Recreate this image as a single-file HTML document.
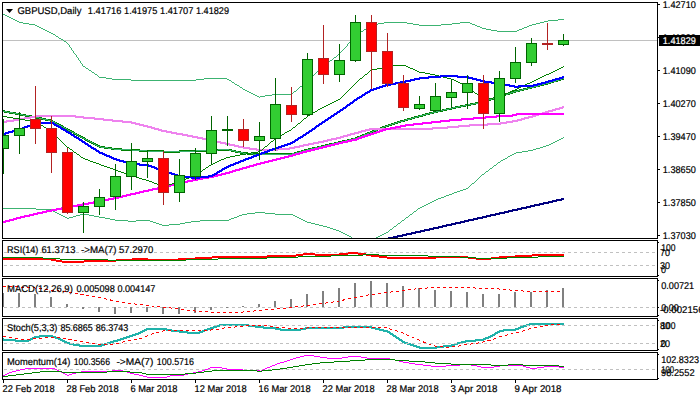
<!DOCTYPE html>
<html><head><meta charset="utf-8"><title>GBPUSD,Daily</title>
<style>
html,body{margin:0;padding:0;background:#fff;}
body{width:700px;height:400px;overflow:hidden;}
svg{display:block;}
text{font-family:"Liberation Sans",sans-serif;font-size:9.8px;fill:#000;stroke:#000;stroke-width:0.2px;text-rendering:geometricPrecision;}
.ln{fill:none;shape-rendering:crispEdges;}
</style></head><body>
<svg width="700" height="400" viewBox="0 0 700 400">
<rect x="0" y="0" width="700" height="400" fill="#fff"/>
<defs>
<clipPath id="cm"><rect x="3" y="3" width="654" height="235"/></clipPath>
<clipPath id="c1"><rect x="3" y="241" width="654" height="35"/></clipPath>
<clipPath id="c2"><rect x="3" y="279" width="654" height="37"/></clipPath>
<clipPath id="c3"><rect x="3" y="319" width="654" height="31"/></clipPath>
<clipPath id="c4"><rect x="3" y="353" width="654" height="26"/></clipPath>
</defs>

<g clip-path="url(#cm)">
<rect x="3" y="40" width="654" height="1" fill="#c0c0c0" shape-rendering="crispEdges"/>
<path d="M560,78h4v1h-4zM557,79h7v1h-7zM553,80h8v1h-8zM550,81h8v1h-8zM547,82h7v1h-7zM543,83h8v1h-8zM539,84h9v1h-9zM535,85h9v1h-9zM531,86h9v1h-9zM527,87h9v1h-9zM523,88h9v1h-9zM519,89h9v1h-9zM515,90h9v1h-9zM512,91h8v1h-8zM509,92h7v1h-7zM505,93h8v1h-8zM502,94h8v1h-8zM499,95h7v1h-7zM496,96h7v1h-7zM493,97h7v1h-7zM490,98h7v1h-7zM487,99h7v1h-7zM484,100h7v1h-7zM480,101h8v1h-8zM475,102h10v1h-10zM470,103h11v1h-11zM465,104h11v1h-11zM460,105h11v1h-11zM455,106h11v1h-11zM451,107h10v1h-10zM446,108h10v1h-10zM442,109h10v1h-10zM2,110h3v1h-3zM437,110h10v1h-10zM2,111h8v1h-8zM433,111h10v1h-10zM4,112h12v1h-12zM429,112h9v1h-9zM9,113h12v1h-12zM425,113h9v1h-9zM15,114h11v1h-11zM422,114h8v1h-8zM20,115h12v1h-12zM418,115h8v1h-8zM25,116h12v1h-12zM414,116h9v1h-9zM31,117h11v1h-11zM411,117h8v1h-8zM36,118h10v1h-10zM407,118h8v1h-8zM41,119h10v1h-10zM404,119h8v1h-8zM45,120h8v1h-8zM400,120h8v1h-8zM50,121h5v1h-5zM397,121h8v1h-8zM52,122h5v1h-5zM394,122h7v1h-7zM54,123h5v1h-5zM391,123h7v1h-7zM56,124h5v1h-5zM388,124h7v1h-7zM58,125h5v1h-5zM385,125h7v1h-7zM60,126h4v1h-4zM382,126h7v1h-7zM62,127h4v1h-4zM380,127h6v1h-6zM63,128h5v1h-5zM377,128h6v1h-6zM65,129h5v1h-5zM375,129h6v1h-6zM67,130h5v1h-5zM372,130h6v1h-6zM69,131h5v1h-5zM370,131h6v1h-6zM71,132h4v1h-4zM367,132h6v1h-6zM73,133h4v1h-4zM365,133h6v1h-6zM74,134h5v1h-5zM362,134h6v1h-6zM76,135h5v1h-5zM360,135h6v1h-6zM78,136h5v1h-5zM357,136h6v1h-6zM80,137h5v1h-5zM355,137h6v1h-6zM82,138h4v1h-4zM351,138h7v1h-7zM84,139h4v1h-4zM347,139h9v1h-9zM85,140h5v1h-5zM342,140h10v1h-10zM87,141h5v1h-5zM338,141h10v1h-10zM89,142h5v1h-5zM334,142h9v1h-9zM91,143h5v1h-5zM329,143h10v1h-10zM93,144h5v1h-5zM325,144h10v1h-10zM95,145h5v1h-5zM321,145h9v1h-9zM97,146h8v1h-8zM317,146h9v1h-9zM99,147h13v1h-13zM312,147h10v1h-10zM104,148h18v1h-18zM308,148h10v1h-10zM111,149h29v1h-29zM206,149h26v1h-26zM304,149h9v1h-9zM121,150h43v1h-43zM179,150h57v1h-57zM301,150h8v1h-8zM139,151h68v1h-68zM231,151h10v1h-10zM297,151h8v1h-8zM163,152h17v1h-17zM235,152h13v1h-13zM294,152h8v1h-8zM240,153h58v1h-58zM247,154h48v1h-48z" fill="#008000" shape-rendering="crispEdges"/>
<path d="M3,14h2v1h-2zM5,15h2v1h-2zM7,16h2v1h-2zM9,17h2v1h-2zM11,18h2v1h-2zM13,19h2v1h-2zM558,19h6v1h-6zM15,20h2v1h-2zM548,20h10v1h-10zM17,21h2v1h-2zM544,21h4v1h-4zM19,22h4v1h-4zM384,22h23v1h-23zM460,22h10v1h-10zM540,22h4v1h-4zM23,23h6v1h-6zM378,23h6v1h-6zM407,23h6v1h-6zM452,23h8v1h-8zM470,23h2v1h-2zM536,23h4v1h-4zM29,24h6v1h-6zM372,24h6v1h-6zM413,24h6v1h-6zM441,24h11v1h-11zM472,24h3v1h-3zM532,24h4v1h-4zM35,25h2v1h-2zM370,25h2v1h-2zM419,25h22v1h-22zM475,25h2v1h-2zM529,25h3v1h-3zM37,26h2v1h-2zM369,26h1v1h-1zM477,26h3v1h-3zM527,26h2v1h-2zM39,27h2v1h-2zM367,27h2v1h-2zM480,27h2v1h-2zM524,27h3v1h-3zM41,28h2v1h-2zM366,28h1v1h-1zM482,28h4v1h-4zM522,28h2v1h-2zM43,29h2v1h-2zM364,29h2v1h-2zM486,29h5v1h-5zM519,29h3v1h-3zM45,30h2v1h-2zM363,30h1v1h-1zM491,30h6v1h-6zM517,30h2v1h-2zM47,31h2v1h-2zM361,31h2v1h-2zM497,31h20v1h-20zM49,32h2v1h-2zM360,32h1v1h-1zM51,33h2v1h-2zM358,33h2v1h-2zM53,34h2v1h-2zM357,34h1v1h-1zM55,35h1v1h-1zM356,35h1v1h-1zM56,36h2v1h-2zM355,36h1v1h-1zM58,37h1v1h-1zM354,37h1v1h-1zM59,38h2v1h-2zM353,38h1v1h-1zM61,39h2v1h-2zM352,39h1v1h-1zM63,40h1v1h-1zM351,40h1v1h-1zM64,41h2v1h-2zM350,41h1v1h-1zM66,42h1v1h-1zM349,42h1v1h-1zM67,43h1v1h-1zM348,43h1v1h-1zM68,44h1v1h-1zM347,44h1v1h-1zM69,45h1v1h-1zM347,45h1v1h-1zM69,46h1v1h-1zM346,46h1v1h-1zM70,47h1v1h-1zM345,47h1v1h-1zM71,48h1v1h-1zM344,48h1v1h-1zM71,49h1v1h-1zM343,49h1v1h-1zM72,50h1v1h-1zM342,50h1v1h-1zM73,51h1v1h-1zM341,51h1v1h-1zM73,52h1v1h-1zM340,52h1v1h-1zM74,53h1v1h-1zM339,53h1v1h-1zM75,54h1v1h-1zM338,54h2v1h-2zM76,55h1v1h-1zM337,55h1v1h-1zM76,56h1v1h-1zM336,56h1v1h-1zM77,57h1v1h-1zM334,57h2v1h-2zM78,58h1v1h-1zM333,58h1v1h-1zM78,59h1v1h-1zM332,59h1v1h-1zM79,60h1v1h-1zM330,60h2v1h-2zM80,61h1v1h-1zM329,61h1v1h-1zM80,62h1v1h-1zM328,62h1v1h-1zM81,63h1v1h-1zM326,63h2v1h-2zM82,64h1v1h-1zM325,64h1v1h-1zM82,65h1v1h-1zM324,65h1v1h-1zM83,66h2v1h-2zM322,66h2v1h-2zM85,67h1v1h-1zM321,67h1v1h-1zM86,68h2v1h-2zM320,68h1v1h-1zM88,69h1v1h-1zM319,69h1v1h-1zM89,70h2v1h-2zM318,70h1v1h-1zM91,71h1v1h-1zM317,71h1v1h-1zM92,72h2v1h-2zM316,72h1v1h-1zM94,73h1v1h-1zM315,73h1v1h-1zM95,74h2v1h-2zM314,74h1v1h-1zM97,75h1v1h-1zM313,75h1v1h-1zM98,76h1v1h-1zM312,76h1v1h-1zM99,77h7v1h-7zM311,77h1v1h-1zM106,78h6v1h-6zM204,78h23v1h-23zM310,78h1v1h-1zM112,79h19v1h-19zM196,79h8v1h-8zM227,79h2v1h-2zM309,79h1v1h-1zM131,80h65v1h-65zM229,80h2v1h-2zM308,80h1v1h-1zM231,81h1v1h-1zM306,81h2v1h-2zM232,82h2v1h-2zM305,82h1v1h-1zM234,83h1v1h-1zM304,83h1v1h-1zM235,84h2v1h-2zM303,84h1v1h-1zM237,85h2v1h-2zM302,85h1v1h-1zM239,86h1v1h-1zM300,86h2v1h-2zM240,87h2v1h-2zM299,87h1v1h-1zM242,88h1v1h-1zM298,88h1v1h-1zM243,89h2v1h-2zM297,89h1v1h-1zM245,90h2v1h-2zM296,90h1v1h-1zM247,91h2v1h-2zM294,91h2v1h-2zM249,92h2v1h-2zM293,92h1v1h-1zM251,93h2v1h-2zM292,93h1v1h-1zM253,94h2v1h-2zM272,94h20v1h-20zM255,95h2v1h-2zM265,95h7v1h-7zM257,96h2v1h-2zM260,96h5v1h-5zM259,97h1v1h-1z" fill="#3cb371" shape-rendering="crispEdges"/>
<path d="M563,137h1v1h-1zM561,138h2v1h-2zM559,139h2v1h-2zM557,140h2v1h-2zM555,141h2v1h-2zM553,142h2v1h-2zM551,143h2v1h-2zM549,144h2v1h-2zM546,145h3v1h-3zM543,146h3v1h-3zM540,147h3v1h-3zM536,148h4v1h-4zM533,149h3v1h-3zM528,150h5v1h-5zM522,151h6v1h-6zM516,152h6v1h-6zM514,153h2v1h-2zM512,154h2v1h-2zM510,155h2v1h-2zM508,156h2v1h-2zM507,157h1v1h-1zM505,158h2v1h-2zM503,159h2v1h-2zM501,160h2v1h-2zM500,161h1v1h-1zM498,162h2v1h-2zM497,163h1v1h-1zM496,164h1v1h-1zM494,165h2v1h-2zM493,166h1v1h-1zM492,167h1v1h-1zM490,168h2v1h-2zM489,169h1v1h-1zM488,170h1v1h-1zM486,171h2v1h-2zM485,172h1v1h-1zM484,173h1v1h-1zM482,174h2v1h-2zM481,175h1v1h-1zM480,176h1v1h-1zM479,177h1v1h-1zM478,178h1v1h-1zM477,179h1v1h-1zM476,180h1v1h-1zM475,181h1v1h-1zM474,182h1v1h-1zM472,183h2v1h-2zM471,184h1v1h-1zM470,185h1v1h-1zM469,186h1v1h-1zM468,187h1v1h-1zM466,188h2v1h-2zM463,189h3v1h-3zM460,190h3v1h-3zM457,191h3v1h-3zM454,192h3v1h-3zM452,193h2v1h-2zM449,194h3v1h-3zM446,195h3v1h-3zM444,196h2v1h-2zM441,197h3v1h-3zM438,198h3v1h-3zM436,199h2v1h-2zM434,200h2v1h-2zM432,201h2v1h-2zM430,202h2v1h-2zM428,203h2v1h-2zM426,204h2v1h-2zM424,205h2v1h-2zM422,206h2v1h-2zM420,207h2v1h-2zM3,208h33v1h-33zM418,208h2v1h-2zM36,209h15v1h-15zM417,209h1v1h-1zM51,210h2v1h-2zM416,210h1v1h-1zM53,211h2v1h-2zM414,211h2v1h-2zM55,212h2v1h-2zM255,212h10v1h-10zM413,212h1v1h-1zM57,213h2v1h-2zM247,213h8v1h-8zM265,213h10v1h-10zM412,213h1v1h-1zM59,214h2v1h-2zM80,214h9v1h-9zM242,214h5v1h-5zM275,214h18v1h-18zM410,214h2v1h-2zM61,215h2v1h-2zM76,215h4v1h-4zM89,215h5v1h-5zM239,215h3v1h-3zM293,215h2v1h-2zM409,215h1v1h-1zM63,216h2v1h-2zM73,216h3v1h-3zM94,216h5v1h-5zM237,216h2v1h-2zM295,216h2v1h-2zM408,216h1v1h-1zM65,217h2v1h-2zM69,217h4v1h-4zM99,217h6v1h-6zM234,217h3v1h-3zM297,217h2v1h-2zM406,217h2v1h-2zM67,218h2v1h-2zM105,218h5v1h-5zM231,218h3v1h-3zM299,218h2v1h-2zM405,218h1v1h-1zM110,219h5v1h-5zM229,219h2v1h-2zM301,219h2v1h-2zM404,219h1v1h-1zM115,220h13v1h-13zM136,220h14v1h-14zM200,220h29v1h-29zM303,220h2v1h-2zM402,220h2v1h-2zM128,221h8v1h-8zM150,221h3v1h-3zM191,221h9v1h-9zM305,221h2v1h-2zM401,221h1v1h-1zM153,222h3v1h-3zM185,222h6v1h-6zM307,222h4v1h-4zM400,222h1v1h-1zM156,223h3v1h-3zM180,223h5v1h-5zM311,223h4v1h-4zM398,223h2v1h-2zM159,224h3v1h-3zM169,224h11v1h-11zM315,224h4v1h-4zM397,224h1v1h-1zM162,225h7v1h-7zM319,225h4v1h-4zM396,225h1v1h-1zM323,226h4v1h-4zM394,226h2v1h-2zM327,227h3v1h-3zM393,227h1v1h-1zM330,228h3v1h-3zM392,228h1v1h-1zM333,229h3v1h-3zM390,229h2v1h-2zM336,230h3v1h-3zM389,230h1v1h-1zM339,231h2v1h-2zM388,231h1v1h-1zM341,232h2v1h-2zM386,232h2v1h-2zM343,233h2v1h-2zM384,233h2v1h-2zM345,234h2v1h-2zM382,234h2v1h-2zM347,235h2v1h-2zM380,235h2v1h-2zM349,236h2v1h-2zM378,236h2v1h-2zM351,237h1v1h-1zM376,237h2v1h-2zM352,238h3v1h-3zM374,238h2v1h-2zM355,239h3v1h-3zM372,239h2v1h-2zM358,240h14v1h-14z" fill="#3cb371" shape-rendering="crispEdges"/>
<path d="M562,78h2v1h-2zM559,79h3v1h-3zM556,80h3v1h-3zM552,81h4v1h-4zM549,82h3v1h-3zM545,83h4v1h-4zM541,84h4v1h-4zM538,85h3v1h-3zM534,86h4v1h-4zM530,87h4v1h-4zM526,88h4v1h-4zM522,89h4v1h-4zM518,90h4v1h-4zM514,91h4v1h-4zM511,92h3v1h-3zM508,93h3v1h-3zM504,94h4v1h-4zM501,95h3v1h-3zM498,96h3v1h-3zM495,97h3v1h-3zM492,98h3v1h-3zM489,99h3v1h-3zM486,100h3v1h-3zM483,101h3v1h-3zM478,102h5v1h-5zM473,103h5v1h-5zM468,104h5v1h-5zM463,105h5v1h-5zM458,106h5v1h-5zM453,107h5v1h-5zM449,108h4v1h-4zM444,109h5v1h-5zM440,110h4v1h-4zM3,111h4v1h-4zM436,111h4v1h-4zM7,112h6v1h-6zM432,112h4v1h-4zM13,113h5v1h-5zM428,113h4v1h-4zM18,114h5v1h-5zM424,114h4v1h-4zM23,115h6v1h-6zM420,115h4v1h-4zM29,116h5v1h-5zM417,116h3v1h-3zM34,117h5v1h-5zM413,117h4v1h-4zM39,118h4v1h-4zM410,118h3v1h-3zM43,119h5v1h-5zM406,119h4v1h-4zM48,120h4v1h-4zM403,120h3v1h-3zM52,121h2v1h-2zM399,121h4v1h-4zM54,122h2v1h-2zM396,122h3v1h-3zM56,123h1v1h-1zM393,123h3v1h-3zM57,124h2v1h-2zM390,124h3v1h-3zM59,125h2v1h-2zM387,125h3v1h-3zM61,126h2v1h-2zM384,126h3v1h-3zM63,127h2v1h-2zM382,127h2v1h-2zM65,128h2v1h-2zM379,128h3v1h-3zM67,129h1v1h-1zM377,129h2v1h-2zM68,130h2v1h-2zM374,130h3v1h-3zM70,131h2v1h-2zM372,131h2v1h-2zM72,132h2v1h-2zM369,132h3v1h-3zM74,133h2v1h-2zM367,133h2v1h-2zM76,134h2v1h-2zM364,134h3v1h-3zM78,135h1v1h-1zM362,135h2v1h-2zM79,136h2v1h-2zM359,136h3v1h-3zM81,137h2v1h-2zM357,137h2v1h-2zM83,138h2v1h-2zM353,138h4v1h-4zM85,139h2v1h-2zM349,139h4v1h-4zM87,140h2v1h-2zM345,140h4v1h-4zM89,141h2v1h-2zM341,141h4v1h-4zM91,142h2v1h-2zM336,142h5v1h-5zM93,143h1v1h-1zM332,143h4v1h-4zM94,144h2v1h-2zM328,144h4v1h-4zM96,145h2v1h-2zM324,145h4v1h-4zM98,146h3v1h-3zM319,146h5v1h-5zM101,147h7v1h-7zM315,147h4v1h-4zM108,148h6v1h-6zM311,148h4v1h-4zM114,149h17v1h-17zM218,149h11v1h-11zM307,149h4v1h-4zM131,150h16v1h-16zM196,150h22v1h-22zM229,150h5v1h-5zM303,150h4v1h-4zM147,151h49v1h-49zM234,151h4v1h-4zM300,151h3v1h-3zM238,152h5v1h-5zM296,152h4v1h-4zM243,153h10v1h-10zM292,153h4v1h-4zM253,154h39v1h-39z" fill="#3cb371" shape-rendering="crispEdges"/>
<path d="M562,106h2v1h-2zM559,107h5v1h-5zM555,108h8v1h-8zM552,109h8v1h-8zM548,110h8v1h-8zM545,111h8v1h-8zM542,112h7v1h-7zM538,113h8v1h-8zM535,114h8v1h-8zM35,115h41v1h-41zM532,115h7v1h-7zM30,116h54v1h-54zM528,116h8v1h-8zM24,117h12v1h-12zM75,117h20v1h-20zM524,117h9v1h-9zM19,118h12v1h-12zM83,118h21v1h-21zM521,118h8v1h-8zM13,119h12v1h-12zM94,119h19v1h-19zM517,119h8v1h-8zM6,120h14v1h-14zM103,120h20v1h-20zM512,120h10v1h-10zM2,121h12v1h-12zM112,121h20v1h-20zM506,121h12v1h-12zM2,122h5v1h-5zM122,122h14v1h-14zM500,122h13v1h-13zM131,123h9v1h-9zM487,123h20v1h-20zM135,124h9v1h-9zM469,124h32v1h-32zM139,125h9v1h-9zM458,125h30v1h-30zM143,126h9v1h-9zM447,126h23v1h-23zM147,127h8v1h-8zM432,127h27v1h-27zM151,128h8v1h-8zM369,128h79v1h-79zM154,129h8v1h-8zM365,129h68v1h-68zM158,130h9v1h-9zM361,130h9v1h-9zM161,131h11v1h-11zM358,131h8v1h-8zM166,132h11v1h-11zM354,132h8v1h-8zM171,133h12v1h-12zM350,133h9v1h-9zM176,134h12v1h-12zM347,134h8v1h-8zM182,135h11v1h-11zM343,135h8v1h-8zM187,136h11v1h-11zM340,136h8v1h-8zM192,137h11v1h-11zM336,137h8v1h-8zM197,138h10v1h-10zM331,138h10v1h-10zM202,139h10v1h-10zM327,139h10v1h-10zM206,140h11v1h-11zM323,140h9v1h-9zM211,141h10v1h-10zM318,141h10v1h-10zM216,142h10v1h-10zM313,142h11v1h-11zM220,143h10v1h-10zM308,143h11v1h-11zM225,144h10v1h-10zM303,144h11v1h-11zM229,145h10v1h-10zM299,145h10v1h-10zM234,146h10v1h-10zM294,146h10v1h-10zM238,147h12v1h-12zM289,147h11v1h-11zM243,148h14v1h-14zM277,148h18v1h-18zM249,149h41v1h-41zM256,150h22v1h-22z" fill="#ee82ee" shape-rendering="crispEdges"/>
<path d="M516,113h48v1h-48zM512,114h52v1h-52zM496,115h21v1h-21zM485,116h28v1h-28zM473,117h24v1h-24zM461,118h25v1h-25zM449,119h25v1h-25zM440,120h22v1h-22zM431,121h19v1h-19zM422,122h19v1h-19zM413,123h19v1h-19zM405,124h18v1h-18zM400,125h14v1h-14zM395,126h11v1h-11zM390,127h11v1h-11zM385,128h11v1h-11zM382,129h9v1h-9zM379,130h7v1h-7zM376,131h7v1h-7zM373,132h7v1h-7zM370,133h7v1h-7zM367,134h7v1h-7zM364,135h7v1h-7zM361,136h7v1h-7zM358,137h7v1h-7zM356,138h6v1h-6zM351,139h8v1h-8zM347,140h10v1h-10zM342,141h10v1h-10zM338,142h10v1h-10zM334,143h9v1h-9zM330,144h9v1h-9zM326,145h9v1h-9zM322,146h9v1h-9zM318,147h9v1h-9zM314,148h9v1h-9zM310,149h9v1h-9zM306,150h9v1h-9zM302,151h9v1h-9zM299,152h8v1h-8zM295,153h8v1h-8zM292,154h8v1h-8zM288,155h8v1h-8zM284,156h9v1h-9zM280,157h9v1h-9zM276,158h9v1h-9zM272,159h9v1h-9zM268,160h9v1h-9zM264,161h9v1h-9zM260,162h9v1h-9zM256,163h9v1h-9zM253,164h8v1h-8zM249,165h8v1h-8zM246,166h8v1h-8zM242,167h8v1h-8zM239,168h8v1h-8zM235,169h8v1h-8zM232,170h8v1h-8zM229,171h7v1h-7zM225,172h8v1h-8zM221,173h9v1h-9zM217,174h9v1h-9zM213,175h9v1h-9zM208,176h10v1h-10zM202,177h12v1h-12zM197,178h12v1h-12zM192,179h11v1h-11zM187,180h11v1h-11zM183,181h10v1h-10zM179,182h9v1h-9zM174,183h10v1h-10zM170,184h10v1h-10zM166,185h9v1h-9zM161,186h10v1h-10zM157,187h10v1h-10zM152,188h10v1h-10zM148,189h10v1h-10zM143,190h10v1h-10zM139,191h10v1h-10zM135,192h9v1h-9zM130,193h10v1h-10zM126,194h10v1h-10zM122,195h9v1h-9zM118,196h9v1h-9zM113,197h10v1h-10zM108,198h11v1h-11zM103,199h11v1h-11zM98,200h11v1h-11zM93,201h11v1h-11zM88,202h11v1h-11zM82,203h12v1h-12zM77,204h12v1h-12zM71,205h12v1h-12zM66,206h12v1h-12zM61,207h11v1h-11zM56,208h11v1h-11zM51,209h11v1h-11zM46,210h11v1h-11zM42,211h10v1h-10zM37,212h10v1h-10zM33,213h10v1h-10zM29,214h9v1h-9zM24,215h10v1h-10zM20,216h10v1h-10zM16,217h9v1h-9zM13,218h8v1h-8zM9,219h8v1h-8zM5,220h9v1h-9zM2,221h8v1h-8zM2,222h4v1h-4z" fill="#ff00ff" shape-rendering="crispEdges"/>
<path d="M392,65h14v1h-14zM388,66h4v1h-4zM406,66h2v1h-2zM563,66h1v1h-1zM382,67h6v1h-6zM408,67h2v1h-2zM561,67h2v1h-2zM377,68h5v1h-5zM410,68h3v1h-3zM559,68h2v1h-2zM372,69h5v1h-5zM413,69h2v1h-2zM557,69h2v1h-2zM370,70h2v1h-2zM415,70h2v1h-2zM555,70h2v1h-2zM369,71h1v1h-1zM417,71h2v1h-2zM553,71h2v1h-2zM368,72h1v1h-1zM419,72h6v1h-6zM551,72h2v1h-2zM367,73h1v1h-1zM425,73h5v1h-5zM549,73h2v1h-2zM365,74h2v1h-2zM430,74h5v1h-5zM546,74h3v1h-3zM364,75h1v1h-1zM435,75h4v1h-4zM544,75h2v1h-2zM363,76h1v1h-1zM439,76h4v1h-4zM542,76h2v1h-2zM362,77h1v1h-1zM443,77h4v1h-4zM540,77h2v1h-2zM360,78h2v1h-2zM447,78h4v1h-4zM538,78h2v1h-2zM359,79h1v1h-1zM451,79h3v1h-3zM536,79h2v1h-2zM358,80h1v1h-1zM454,80h2v1h-2zM534,80h2v1h-2zM357,81h1v1h-1zM456,81h2v1h-2zM532,81h2v1h-2zM356,82h1v1h-1zM458,82h2v1h-2zM530,82h2v1h-2zM355,83h1v1h-1zM460,83h2v1h-2zM527,83h3v1h-3zM354,84h1v1h-1zM462,84h2v1h-2zM525,84h2v1h-2zM353,85h1v1h-1zM464,85h2v1h-2zM523,85h2v1h-2zM352,86h1v1h-1zM466,86h2v1h-2zM521,86h2v1h-2zM351,87h1v1h-1zM468,87h1v1h-1zM519,87h2v1h-2zM350,88h1v1h-1zM469,88h2v1h-2zM517,88h2v1h-2zM349,89h1v1h-1zM471,89h1v1h-1zM515,89h2v1h-2zM348,90h1v1h-1zM472,90h1v1h-1zM512,90h3v1h-3zM347,91h1v1h-1zM473,91h1v1h-1zM510,91h2v1h-2zM346,92h1v1h-1zM474,92h1v1h-1zM508,92h2v1h-2zM345,93h1v1h-1zM475,93h2v1h-2zM506,93h2v1h-2zM344,94h1v1h-1zM477,94h1v1h-1zM504,94h2v1h-2zM343,95h1v1h-1zM478,95h1v1h-1zM502,95h2v1h-2zM342,96h1v1h-1zM479,96h1v1h-1zM500,96h2v1h-2zM341,97h1v1h-1zM480,97h2v1h-2zM493,97h7v1h-7zM340,98h1v1h-1zM482,98h1v1h-1zM487,98h6v1h-6zM338,99h2v1h-2zM483,99h4v1h-4zM336,100h2v1h-2zM334,101h2v1h-2zM332,102h2v1h-2zM330,103h2v1h-2zM328,104h2v1h-2zM326,105h2v1h-2zM324,106h2v1h-2zM322,107h2v1h-2zM320,108h2v1h-2zM318,109h2v1h-2zM317,110h1v1h-1zM315,111h2v1h-2zM313,112h2v1h-2zM312,113h1v1h-1zM310,114h2v1h-2zM308,115h2v1h-2zM3,116h4v1h-4zM307,116h1v1h-1zM7,117h6v1h-6zM306,117h1v1h-1zM13,118h6v1h-6zM304,118h2v1h-2zM19,119h6v1h-6zM303,119h1v1h-1zM25,120h5v1h-5zM302,120h1v1h-1zM30,121h5v1h-5zM301,121h1v1h-1zM35,122h2v1h-2zM300,122h1v1h-1zM37,123h2v1h-2zM298,123h2v1h-2zM39,124h2v1h-2zM297,124h1v1h-1zM41,125h2v1h-2zM296,125h1v1h-1zM43,126h1v1h-1zM295,126h1v1h-1zM44,127h2v1h-2zM293,127h2v1h-2zM46,128h2v1h-2zM292,128h1v1h-1zM48,129h2v1h-2zM291,129h1v1h-1zM50,130h1v1h-1zM289,130h2v1h-2zM51,131h1v1h-1zM287,131h2v1h-2zM52,132h1v1h-1zM285,132h2v1h-2zM53,133h1v1h-1zM284,133h1v1h-1zM54,134h1v1h-1zM282,134h2v1h-2zM55,135h1v1h-1zM280,135h2v1h-2zM56,136h1v1h-1zM278,136h2v1h-2zM57,137h1v1h-1zM276,137h2v1h-2zM58,138h1v1h-1zM275,138h1v1h-1zM59,139h1v1h-1zM274,139h1v1h-1zM60,140h1v1h-1zM273,140h1v1h-1zM61,141h1v1h-1zM271,141h2v1h-2zM62,142h1v1h-1zM270,142h1v1h-1zM63,143h1v1h-1zM269,143h1v1h-1zM64,144h1v1h-1zM268,144h1v1h-1zM65,145h1v1h-1zM267,145h1v1h-1zM66,146h1v1h-1zM265,146h2v1h-2zM67,147h2v1h-2zM264,147h1v1h-1zM69,148h1v1h-1zM263,148h1v1h-1zM70,149h2v1h-2zM262,149h1v1h-1zM72,150h1v1h-1zM260,150h2v1h-2zM73,151h1v1h-1zM258,151h2v1h-2zM74,152h2v1h-2zM251,152h7v1h-7zM76,153h1v1h-1zM246,153h5v1h-5zM77,154h2v1h-2zM240,154h6v1h-6zM79,155h1v1h-1zM235,155h5v1h-5zM80,156h1v1h-1zM230,156h5v1h-5zM81,157h2v1h-2zM226,157h4v1h-4zM83,158h2v1h-2zM224,158h2v1h-2zM85,159h3v1h-3zM221,159h3v1h-3zM88,160h2v1h-2zM219,160h2v1h-2zM90,161h3v1h-3zM217,161h2v1h-2zM93,162h3v1h-3zM215,162h2v1h-2zM96,163h3v1h-3zM213,163h2v1h-2zM99,164h2v1h-2zM211,164h2v1h-2zM101,165h3v1h-3zM209,165h2v1h-2zM104,166h3v1h-3zM208,166h1v1h-1zM107,167h3v1h-3zM206,167h2v1h-2zM110,168h3v1h-3zM205,168h1v1h-1zM113,169h2v1h-2zM203,169h2v1h-2zM115,170h3v1h-3zM202,170h1v1h-1zM118,171h3v1h-3zM200,171h2v1h-2zM121,172h3v1h-3zM199,172h1v1h-1zM124,173h3v1h-3zM197,173h2v1h-2zM127,174h2v1h-2zM196,174h1v1h-1zM129,175h3v1h-3zM193,175h3v1h-3zM132,176h4v1h-4zM191,176h2v1h-2zM136,177h3v1h-3zM189,177h2v1h-2zM139,178h3v1h-3zM186,178h3v1h-3zM142,179h4v1h-4zM184,179h2v1h-2zM146,180h3v1h-3zM182,180h2v1h-2zM149,181h3v1h-3zM180,181h2v1h-2zM152,182h2v1h-2zM176,182h4v1h-4zM154,183h3v1h-3zM172,183h4v1h-4zM157,184h3v1h-3zM168,184h4v1h-4zM160,185h3v1h-3zM165,185h3v1h-3zM163,186h2v1h-2z" fill="#008000" shape-rendering="crispEdges"/>
<path d="M440,75h18v1h-18zM428,76h41v1h-41zM562,76h2v1h-2zM419,77h22v1h-22zM457,77h16v1h-16zM559,77h5v1h-5zM414,78h15v1h-15zM468,78h9v1h-9zM555,78h8v1h-8zM410,79h10v1h-10zM472,79h9v1h-9zM552,79h8v1h-8zM405,80h10v1h-10zM476,80h9v1h-9zM548,80h8v1h-8zM400,81h11v1h-11zM480,81h12v1h-12zM545,81h8v1h-8zM395,82h11v1h-11zM484,82h14v1h-14zM541,82h8v1h-8zM390,83h11v1h-11zM491,83h13v1h-13zM537,83h9v1h-9zM385,84h11v1h-11zM497,84h13v1h-13zM533,84h9v1h-9zM382,85h9v1h-9zM503,85h12v1h-12zM518,85h20v1h-20zM379,86h7v1h-7zM509,86h25v1h-25zM376,87h7v1h-7zM514,87h5v1h-5zM373,88h7v1h-7zM370,89h7v1h-7zM369,90h5v1h-5zM367,91h4v1h-4zM365,92h5v1h-5zM364,93h4v1h-4zM362,94h4v1h-4zM361,95h4v1h-4zM359,96h4v1h-4zM357,97h5v1h-5zM356,98h4v1h-4zM354,99h4v1h-4zM353,100h4v1h-4zM352,101h3v1h-3zM350,102h4v1h-4zM349,103h4v1h-4zM347,104h4v1h-4zM346,105h4v1h-4zM345,106h3v1h-3zM343,107h4v1h-4zM342,108h4v1h-4zM340,109h4v1h-4zM339,110h4v1h-4zM337,111h4v1h-4zM336,112h4v1h-4zM334,113h4v1h-4zM333,114h4v1h-4zM331,115h4v1h-4zM330,116h4v1h-4zM328,117h4v1h-4zM327,118h4v1h-4zM325,119h4v1h-4zM324,120h4v1h-4zM322,121h4v1h-4zM35,122h19v1h-19zM321,122h4v1h-4zM32,123h23v1h-23zM319,123h4v1h-4zM30,124h6v1h-6zM53,124h4v1h-4zM318,124h4v1h-4zM27,125h6v1h-6zM54,125h5v1h-5zM316,125h4v1h-4zM24,126h7v1h-7zM56,126h5v1h-5zM315,126h4v1h-4zM22,127h6v1h-6zM58,127h4v1h-4zM314,127h3v1h-3zM19,128h6v1h-6zM60,128h4v1h-4zM312,128h4v1h-4zM15,129h8v1h-8zM61,129h5v1h-5zM311,129h4v1h-4zM12,130h8v1h-8zM63,130h4v1h-4zM309,130h4v1h-4zM8,131h8v1h-8zM65,131h4v1h-4zM308,131h4v1h-4zM5,132h8v1h-8zM66,132h5v1h-5zM306,132h4v1h-4zM2,133h7v1h-7zM68,133h4v1h-4zM305,133h4v1h-4zM2,134h4v1h-4zM70,134h4v1h-4zM303,134h4v1h-4zM71,135h4v1h-4zM302,135h4v1h-4zM73,136h4v1h-4zM300,136h4v1h-4zM74,137h5v1h-5zM298,137h5v1h-5zM76,138h4v1h-4zM297,138h4v1h-4zM78,139h4v1h-4zM295,139h4v1h-4zM79,140h4v1h-4zM294,140h4v1h-4zM81,141h4v1h-4zM292,141h4v1h-4zM82,142h4v1h-4zM290,142h5v1h-5zM84,143h4v1h-4zM287,143h6v1h-6zM85,144h4v1h-4zM284,144h7v1h-7zM87,145h4v1h-4zM281,145h7v1h-7zM88,146h4v1h-4zM278,146h7v1h-7zM90,147h4v1h-4zM275,147h7v1h-7zM91,148h5v1h-5zM272,148h7v1h-7zM93,149h4v1h-4zM269,149h7v1h-7zM95,150h4v1h-4zM267,150h6v1h-6zM96,151h4v1h-4zM264,151h6v1h-6zM98,152h5v1h-5zM261,152h7v1h-7zM99,153h6v1h-6zM259,153h6v1h-6zM102,154h5v1h-5zM256,154h6v1h-6zM104,155h6v1h-6zM253,155h7v1h-7zM106,156h6v1h-6zM251,156h6v1h-6zM109,157h5v1h-5zM248,157h6v1h-6zM111,158h6v1h-6zM245,158h7v1h-7zM113,159h7v1h-7zM243,159h6v1h-6zM116,160h8v1h-8zM240,160h6v1h-6zM119,161h8v1h-8zM238,161h6v1h-6zM123,162h7v1h-7zM235,162h6v1h-6zM126,163h14v1h-14zM233,163h6v1h-6zM129,164h20v1h-20zM230,164h6v1h-6zM139,165h13v1h-13zM228,165h6v1h-6zM148,166h7v1h-7zM226,166h5v1h-5zM151,167h6v1h-6zM224,167h5v1h-5zM154,168h6v1h-6zM222,168h5v1h-5zM156,169h7v1h-7zM221,169h4v1h-4zM159,170h7v1h-7zM219,170h4v1h-4zM162,171h7v1h-7zM217,171h5v1h-5zM165,172h7v1h-7zM216,172h4v1h-4zM168,173h7v1h-7zM214,173h4v1h-4zM171,174h7v1h-7zM212,174h5v1h-5zM174,175h10v1h-10zM208,175h7v1h-7zM177,176h15v1h-15zM199,176h14v1h-14zM183,177h26v1h-26zM191,178h9v1h-9z" fill="#0000ff" shape-rendering="crispEdges"/>
<path d="M561,198h3v1h-3zM556,199h8v1h-8zM552,200h10v1h-10zM548,201h9v1h-9zM543,202h10v1h-10zM539,203h10v1h-10zM534,204h10v1h-10zM530,205h10v1h-10zM526,206h9v1h-9zM521,207h10v1h-10zM517,208h10v1h-10zM512,209h10v1h-10zM508,210h10v1h-10zM504,211h9v1h-9zM499,212h10v1h-10zM495,213h10v1h-10zM490,214h10v1h-10zM486,215h10v1h-10zM482,216h9v1h-9zM477,217h10v1h-10zM473,218h10v1h-10zM468,219h10v1h-10zM464,220h10v1h-10zM460,221h9v1h-9zM455,222h10v1h-10zM451,223h10v1h-10zM446,224h10v1h-10zM442,225h10v1h-10zM438,226h9v1h-9zM433,227h10v1h-10zM429,228h10v1h-10zM424,229h10v1h-10zM420,230h10v1h-10zM415,231h10v1h-10zM411,232h10v1h-10zM406,233h10v1h-10zM402,234h10v1h-10zM397,235h10v1h-10zM393,236h10v1h-10zM388,237h10v1h-10zM385,238h9v1h-9zM385,239h4v1h-4z" fill="#000080" shape-rendering="crispEdges"/>
<rect x="3" y="119" width="1" height="55" fill="#006400" shape-rendering="crispEdges"/>
<rect x="-2" y="135" width="11" height="14" fill="#006400" shape-rendering="crispEdges"/>
<rect x="-1" y="136" width="9" height="12" fill="#32cd32" shape-rendering="crispEdges"/>
<rect x="19" y="112" width="1" height="42" fill="#006400" shape-rendering="crispEdges"/>
<rect x="14" y="128" width="11" height="8" fill="#006400" shape-rendering="crispEdges"/>
<rect x="15" y="129" width="9" height="6" fill="#32cd32" shape-rendering="crispEdges"/>
<rect x="35" y="86" width="1" height="58" fill="#b22222" shape-rendering="crispEdges"/>
<rect x="30" y="119" width="11" height="10" fill="#b22222" shape-rendering="crispEdges"/>
<rect x="31" y="120" width="9" height="8" fill="#ff0000" shape-rendering="crispEdges"/>
<rect x="51" y="116" width="1" height="57" fill="#b22222" shape-rendering="crispEdges"/>
<rect x="46" y="128" width="11" height="25" fill="#b22222" shape-rendering="crispEdges"/>
<rect x="47" y="129" width="9" height="23" fill="#ff0000" shape-rendering="crispEdges"/>
<rect x="67" y="148" width="1" height="66" fill="#b22222" shape-rendering="crispEdges"/>
<rect x="62" y="152" width="11" height="61" fill="#b22222" shape-rendering="crispEdges"/>
<rect x="63" y="153" width="9" height="59" fill="#ff0000" shape-rendering="crispEdges"/>
<rect x="83" y="202" width="1" height="31" fill="#006400" shape-rendering="crispEdges"/>
<rect x="78" y="206" width="11" height="7" fill="#006400" shape-rendering="crispEdges"/>
<rect x="79" y="207" width="9" height="5" fill="#32cd32" shape-rendering="crispEdges"/>
<rect x="99" y="189" width="1" height="26" fill="#006400" shape-rendering="crispEdges"/>
<rect x="94" y="197" width="11" height="10" fill="#006400" shape-rendering="crispEdges"/>
<rect x="95" y="198" width="9" height="8" fill="#32cd32" shape-rendering="crispEdges"/>
<rect x="115" y="164" width="1" height="46" fill="#006400" shape-rendering="crispEdges"/>
<rect x="110" y="176" width="11" height="21" fill="#006400" shape-rendering="crispEdges"/>
<rect x="111" y="177" width="9" height="19" fill="#32cd32" shape-rendering="crispEdges"/>
<rect x="131" y="143" width="1" height="47" fill="#006400" shape-rendering="crispEdges"/>
<rect x="126" y="161" width="11" height="16" fill="#006400" shape-rendering="crispEdges"/>
<rect x="127" y="162" width="9" height="14" fill="#32cd32" shape-rendering="crispEdges"/>
<rect x="147" y="150" width="1" height="28" fill="#006400" shape-rendering="crispEdges"/>
<rect x="142" y="158" width="11" height="4" fill="#006400" shape-rendering="crispEdges"/>
<rect x="143" y="159" width="9" height="2" fill="#32cd32" shape-rendering="crispEdges"/>
<rect x="163" y="151" width="1" height="54" fill="#b22222" shape-rendering="crispEdges"/>
<rect x="158" y="158" width="11" height="35" fill="#b22222" shape-rendering="crispEdges"/>
<rect x="159" y="159" width="9" height="33" fill="#ff0000" shape-rendering="crispEdges"/>
<rect x="179" y="159" width="1" height="43" fill="#006400" shape-rendering="crispEdges"/>
<rect x="174" y="175" width="11" height="18" fill="#006400" shape-rendering="crispEdges"/>
<rect x="175" y="176" width="9" height="16" fill="#32cd32" shape-rendering="crispEdges"/>
<rect x="195" y="148" width="1" height="32" fill="#006400" shape-rendering="crispEdges"/>
<rect x="190" y="153" width="11" height="24" fill="#006400" shape-rendering="crispEdges"/>
<rect x="191" y="154" width="9" height="22" fill="#32cd32" shape-rendering="crispEdges"/>
<rect x="211" y="116" width="1" height="49" fill="#006400" shape-rendering="crispEdges"/>
<rect x="206" y="130" width="11" height="24" fill="#006400" shape-rendering="crispEdges"/>
<rect x="207" y="131" width="9" height="22" fill="#32cd32" shape-rendering="crispEdges"/>
<rect x="227" y="116" width="1" height="30" fill="#006400" shape-rendering="crispEdges"/>
<rect x="222" y="129" width="11" height="2" fill="#006400" shape-rendering="crispEdges"/>
<rect x="243" y="119" width="1" height="28" fill="#b22222" shape-rendering="crispEdges"/>
<rect x="238" y="129" width="11" height="12" fill="#b22222" shape-rendering="crispEdges"/>
<rect x="239" y="130" width="9" height="10" fill="#ff0000" shape-rendering="crispEdges"/>
<rect x="259" y="122" width="1" height="38" fill="#006400" shape-rendering="crispEdges"/>
<rect x="254" y="136" width="11" height="5" fill="#006400" shape-rendering="crispEdges"/>
<rect x="255" y="137" width="9" height="3" fill="#32cd32" shape-rendering="crispEdges"/>
<rect x="275" y="78" width="1" height="73" fill="#006400" shape-rendering="crispEdges"/>
<rect x="270" y="104" width="11" height="35" fill="#006400" shape-rendering="crispEdges"/>
<rect x="271" y="105" width="9" height="33" fill="#32cd32" shape-rendering="crispEdges"/>
<rect x="291" y="87" width="1" height="35" fill="#b22222" shape-rendering="crispEdges"/>
<rect x="286" y="105" width="11" height="10" fill="#b22222" shape-rendering="crispEdges"/>
<rect x="287" y="106" width="9" height="8" fill="#ff0000" shape-rendering="crispEdges"/>
<rect x="307" y="53" width="1" height="64" fill="#006400" shape-rendering="crispEdges"/>
<rect x="302" y="59" width="11" height="56" fill="#006400" shape-rendering="crispEdges"/>
<rect x="303" y="60" width="9" height="54" fill="#32cd32" shape-rendering="crispEdges"/>
<rect x="323" y="25" width="1" height="59" fill="#b22222" shape-rendering="crispEdges"/>
<rect x="318" y="58" width="11" height="17" fill="#b22222" shape-rendering="crispEdges"/>
<rect x="319" y="59" width="9" height="15" fill="#ff0000" shape-rendering="crispEdges"/>
<rect x="339" y="44" width="1" height="38" fill="#006400" shape-rendering="crispEdges"/>
<rect x="334" y="60" width="11" height="15" fill="#006400" shape-rendering="crispEdges"/>
<rect x="335" y="61" width="9" height="13" fill="#32cd32" shape-rendering="crispEdges"/>
<rect x="355" y="15" width="1" height="47" fill="#006400" shape-rendering="crispEdges"/>
<rect x="350" y="22" width="11" height="39" fill="#006400" shape-rendering="crispEdges"/>
<rect x="351" y="23" width="9" height="37" fill="#32cd32" shape-rendering="crispEdges"/>
<rect x="371" y="15" width="1" height="74" fill="#b22222" shape-rendering="crispEdges"/>
<rect x="366" y="22" width="11" height="30" fill="#b22222" shape-rendering="crispEdges"/>
<rect x="367" y="23" width="9" height="28" fill="#ff0000" shape-rendering="crispEdges"/>
<rect x="387" y="33" width="1" height="54" fill="#b22222" shape-rendering="crispEdges"/>
<rect x="382" y="51" width="11" height="33" fill="#b22222" shape-rendering="crispEdges"/>
<rect x="383" y="52" width="9" height="31" fill="#ff0000" shape-rendering="crispEdges"/>
<rect x="403" y="75" width="1" height="36" fill="#b22222" shape-rendering="crispEdges"/>
<rect x="398" y="83" width="11" height="25" fill="#b22222" shape-rendering="crispEdges"/>
<rect x="399" y="84" width="9" height="23" fill="#ff0000" shape-rendering="crispEdges"/>
<rect x="419" y="96" width="1" height="14" fill="#006400" shape-rendering="crispEdges"/>
<rect x="414" y="104" width="11" height="5" fill="#006400" shape-rendering="crispEdges"/>
<rect x="415" y="105" width="9" height="3" fill="#32cd32" shape-rendering="crispEdges"/>
<rect x="435" y="83" width="1" height="29" fill="#006400" shape-rendering="crispEdges"/>
<rect x="430" y="96" width="11" height="15" fill="#006400" shape-rendering="crispEdges"/>
<rect x="431" y="97" width="9" height="13" fill="#32cd32" shape-rendering="crispEdges"/>
<rect x="451" y="79" width="1" height="29" fill="#006400" shape-rendering="crispEdges"/>
<rect x="446" y="92" width="11" height="6" fill="#006400" shape-rendering="crispEdges"/>
<rect x="447" y="93" width="9" height="4" fill="#32cd32" shape-rendering="crispEdges"/>
<rect x="467" y="75" width="1" height="34" fill="#006400" shape-rendering="crispEdges"/>
<rect x="462" y="83" width="11" height="10" fill="#006400" shape-rendering="crispEdges"/>
<rect x="463" y="84" width="9" height="8" fill="#32cd32" shape-rendering="crispEdges"/>
<rect x="483" y="75" width="1" height="54" fill="#b22222" shape-rendering="crispEdges"/>
<rect x="478" y="83" width="11" height="31" fill="#b22222" shape-rendering="crispEdges"/>
<rect x="479" y="84" width="9" height="29" fill="#ff0000" shape-rendering="crispEdges"/>
<rect x="499" y="71" width="1" height="51" fill="#006400" shape-rendering="crispEdges"/>
<rect x="494" y="78" width="11" height="36" fill="#006400" shape-rendering="crispEdges"/>
<rect x="495" y="79" width="9" height="34" fill="#32cd32" shape-rendering="crispEdges"/>
<rect x="515" y="47" width="1" height="36" fill="#006400" shape-rendering="crispEdges"/>
<rect x="510" y="62" width="11" height="17" fill="#006400" shape-rendering="crispEdges"/>
<rect x="511" y="63" width="9" height="15" fill="#32cd32" shape-rendering="crispEdges"/>
<rect x="531" y="38" width="1" height="28" fill="#006400" shape-rendering="crispEdges"/>
<rect x="526" y="43" width="11" height="20" fill="#006400" shape-rendering="crispEdges"/>
<rect x="527" y="44" width="9" height="18" fill="#32cd32" shape-rendering="crispEdges"/>
<rect x="547" y="23" width="1" height="27" fill="#b22222" shape-rendering="crispEdges"/>
<rect x="542" y="43" width="11" height="2" fill="#b22222" shape-rendering="crispEdges"/>
<rect x="563" y="34" width="1" height="12" fill="#006400" shape-rendering="crispEdges"/>
<rect x="558" y="40" width="11" height="5" fill="#006400" shape-rendering="crispEdges"/>
<rect x="559" y="41" width="9" height="3" fill="#32cd32" shape-rendering="crispEdges"/>
</g>
<g clip-path="url(#c1)">
<line x1="4" y1="252.5" x2="657" y2="252.5" stroke="#c0c0c0" stroke-width="1" stroke-dasharray="3 3" shape-rendering="crispEdges"/>
<line x1="4" y1="265.5" x2="657" y2="265.5" stroke="#c0c0c0" stroke-width="1" stroke-dasharray="3 3" shape-rendering="crispEdges"/>
<path d="M3,258h48v2h-48zM51,259h5v2h-5zM56,260h6v2h-6zM62,261h22v2h-22zM84,260h32v2h-32zM116,259h16v2h-16zM132,258h16v2h-16zM148,259h30v2h-30zM178,258h17v2h-17zM195,257h17v2h-17zM212,256h55v2h-55zM267,255h29v2h-29zM296,254h7v2h-7zM303,253h12v2h-12zM315,254h24v2h-24zM339,253h9v2h-9zM348,252h10v2h-10zM358,253h8v2h-8zM366,254h5v2h-5zM371,255h8v2h-8zM379,256h8v2h-8zM387,257h49v2h-49zM436,256h32v2h-32zM468,257h8v2h-8zM476,258h15v2h-15zM491,257h8v2h-8zM499,256h16v2h-16zM515,255h17v2h-17zM532,254h32v2h-32z" fill="#ff0000" shape-rendering="crispEdges"/>
<path d="M3,257h40v1h-40zM43,258h17v1h-17zM60,259h48v1h-48zM108,260h78v1h-78zM186,259h32v1h-32zM218,258h49v1h-49zM267,257h31v1h-31zM298,256h33v1h-33zM331,255h32v1h-32zM363,254h16v1h-16zM379,255h49v1h-49zM428,256h32v1h-32zM460,257h16v1h-16zM476,258h31v1h-31zM507,257h31v1h-31zM538,256h26v1h-26z" fill="#008000" shape-rendering="crispEdges"/>
</g>
<g clip-path="url(#c2)">
<line x1="4" y1="307.5" x2="657" y2="307.5" stroke="#c0c0c0" stroke-width="1" stroke-dasharray="3 3" shape-rendering="crispEdges"/>
<rect x="2" y="293" width="2" height="14" fill="#808080" shape-rendering="crispEdges"/>
<rect x="18" y="293" width="2" height="14" fill="#808080" shape-rendering="crispEdges"/>
<rect x="34" y="294" width="2" height="13" fill="#808080" shape-rendering="crispEdges"/>
<rect x="50" y="297" width="2" height="10" fill="#808080" shape-rendering="crispEdges"/>
<rect x="66" y="304" width="2" height="3" fill="#808080" shape-rendering="crispEdges"/>
<rect x="82" y="307" width="2" height="2" fill="#808080" shape-rendering="crispEdges"/>
<rect x="98" y="307" width="2" height="5" fill="#808080" shape-rendering="crispEdges"/>
<rect x="114" y="307" width="2" height="7" fill="#808080" shape-rendering="crispEdges"/>
<rect x="130" y="307" width="2" height="6" fill="#808080" shape-rendering="crispEdges"/>
<rect x="146" y="307" width="2" height="5" fill="#808080" shape-rendering="crispEdges"/>
<rect x="162" y="307" width="2" height="7" fill="#808080" shape-rendering="crispEdges"/>
<rect x="178" y="307" width="2" height="7" fill="#808080" shape-rendering="crispEdges"/>
<rect x="194" y="307" width="2" height="6" fill="#808080" shape-rendering="crispEdges"/>
<rect x="210" y="307" width="2" height="3" fill="#808080" shape-rendering="crispEdges"/>
<rect x="226" y="307" width="2" height="1" fill="#808080" shape-rendering="crispEdges"/>
<rect x="242" y="306" width="2" height="1" fill="#808080" shape-rendering="crispEdges"/>
<rect x="258" y="304" width="2" height="3" fill="#808080" shape-rendering="crispEdges"/>
<rect x="274" y="301" width="2" height="6" fill="#808080" shape-rendering="crispEdges"/>
<rect x="290" y="299" width="2" height="8" fill="#808080" shape-rendering="crispEdges"/>
<rect x="306" y="294" width="2" height="13" fill="#808080" shape-rendering="crispEdges"/>
<rect x="322" y="291" width="2" height="16" fill="#808080" shape-rendering="crispEdges"/>
<rect x="338" y="288" width="2" height="19" fill="#808080" shape-rendering="crispEdges"/>
<rect x="354" y="283" width="2" height="24" fill="#808080" shape-rendering="crispEdges"/>
<rect x="370" y="281" width="2" height="26" fill="#808080" shape-rendering="crispEdges"/>
<rect x="386" y="283" width="2" height="24" fill="#808080" shape-rendering="crispEdges"/>
<rect x="402" y="286" width="2" height="21" fill="#808080" shape-rendering="crispEdges"/>
<rect x="418" y="288" width="2" height="19" fill="#808080" shape-rendering="crispEdges"/>
<rect x="434" y="290" width="2" height="17" fill="#808080" shape-rendering="crispEdges"/>
<rect x="450" y="291" width="2" height="16" fill="#808080" shape-rendering="crispEdges"/>
<rect x="466" y="292" width="2" height="15" fill="#808080" shape-rendering="crispEdges"/>
<rect x="482" y="294" width="2" height="13" fill="#808080" shape-rendering="crispEdges"/>
<rect x="498" y="294" width="2" height="13" fill="#808080" shape-rendering="crispEdges"/>
<rect x="514" y="292" width="2" height="15" fill="#808080" shape-rendering="crispEdges"/>
<rect x="530" y="292" width="2" height="15" fill="#808080" shape-rendering="crispEdges"/>
<rect x="546" y="290" width="2" height="17" fill="#808080" shape-rendering="crispEdges"/>
<rect x="562" y="288" width="2" height="19" fill="#808080" shape-rendering="crispEdges"/>
<polyline class="ln" points="3,286.5 19,287 35,288 51,290 67,292 75,293 99,297.5 115,301 131,303.5 147,305.5 163,307 179,309 195,311 211,312 227,312.5 243,312 259,310.5 275,309 291,307.5 307,305.5 323,303.5 339,301 355,297.5 371,294.5 387,292.5 403,290.5 419,288.5 435,287.5 451,287.5 467,287.5 483,288.5 499,289 515,290.5 531,291.5 547,291.5 563,291.5" stroke="#ff0000" stroke-width="1" stroke-dasharray="3 3"/>
</g>
<g clip-path="url(#c3)">
<path d="M529,323h35v1h-35zM219,324h30v1h-30zM526,324h38v1h-38zM216,325h40v1h-40zM523,325h7v1h-7zM213,326h7v1h-7zM248,326h16v1h-16zM343,326h29v1h-29zM520,326h7v1h-7zM210,327h7v1h-7zM255,327h21v1h-21zM305,327h71v1h-71zM518,327h6v1h-6zM146,328h21v1h-21zM207,328h7v1h-7zM263,328h18v1h-18zM300,328h44v1h-44zM371,328h9v1h-9zM515,328h6v1h-6zM144,329h28v1h-28zM204,329h7v1h-7zM275,329h31v1h-31zM375,329h9v1h-9zM503,329h16v1h-16zM142,330h5v1h-5zM166,330h14v1h-14zM202,330h6v1h-6zM280,330h21v1h-21zM379,330h9v1h-9zM499,330h17v1h-17zM140,331h5v1h-5zM171,331h17v1h-17zM199,331h6v1h-6zM383,331h7v1h-7zM497,331h7v1h-7zM138,332h5v1h-5zM179,332h24v1h-24zM387,332h4v1h-4zM495,332h5v1h-5zM135,333h6v1h-6zM187,333h13v1h-13zM389,333h4v1h-4zM494,333h4v1h-4zM132,334h7v1h-7zM390,334h4v1h-4zM492,334h4v1h-4zM39,335h14v1h-14zM129,335h7v1h-7zM392,335h4v1h-4zM490,335h5v1h-5zM34,336h22v1h-22zM126,336h7v1h-7zM393,336h4v1h-4zM488,336h5v1h-5zM32,337h8v1h-8zM52,337h7v1h-7zM123,337h7v1h-7zM395,337h4v1h-4zM485,337h6v1h-6zM2,338h2v1h-2zM30,338h5v1h-5zM55,338h6v1h-6zM120,338h7v1h-7zM396,338h4v1h-4zM483,338h6v1h-6zM2,339h14v1h-14zM28,339h5v1h-5zM58,339h5v1h-5zM117,339h7v1h-7zM398,339h4v1h-4zM475,339h11v1h-11zM3,340h28v1h-28zM60,340h5v1h-5zM113,340h8v1h-8zM399,340h4v1h-4zM465,340h19v1h-19zM15,341h14v1h-14zM62,341h5v1h-5zM110,341h8v1h-8zM401,341h4v1h-4zM461,341h15v1h-15zM64,342h6v1h-6zM107,342h7v1h-7zM402,342h6v1h-6zM457,342h9v1h-9zM66,343h8v1h-8zM104,343h7v1h-7zM404,343h7v1h-7zM454,343h8v1h-8zM69,344h11v1h-11zM101,344h7v1h-7zM407,344h7v1h-7zM451,344h7v1h-7zM73,345h32v1h-32zM410,345h7v1h-7zM443,345h12v1h-12zM79,346h23v1h-23zM413,346h7v1h-7zM436,346h16v1h-16zM416,347h28v1h-28zM419,348h18v1h-18z" fill="#20b2aa" shape-rendering="crispEdges"/>
<line x1="4" y1="325.5" x2="657" y2="325.5" stroke="#c0c0c0" stroke-width="1" stroke-dasharray="3 3" shape-rendering="crispEdges"/>
<line x1="4" y1="343.5" x2="657" y2="343.5" stroke="#c0c0c0" stroke-width="1" stroke-dasharray="3 3" shape-rendering="crispEdges"/>
<polyline class="ln" points="3,336.5 19,339 27,339.5 35,338.5 51,337.5 59,337.5 67,339 83,341.5 91,343 99,344.5 107,344.5 115,344 123,342 131,340.5 139,339 147,336 155,333 163,331 179,330.5 195,330.5 203,331 211,330 219,329 227,327.5 235,327 243,326 259,325 267,325.5 275,327 291,328.5 307,328 323,327.5 339,327.5 355,327 379,327 387,328 395,330.5 403,333 411,337 419,340 427,343.5 435,346 443,347 451,347 459,346 467,344.5 475,343.5 483,342 491,340 499,337 507,335 515,333 523,331 531,328.5 539,327 547,325.5 555,324.5 563,324.5" stroke="#ff0000" stroke-width="1" stroke-dasharray="3 3"/>
</g>
<g clip-path="url(#c4)">
<line x1="4" y1="369.5" x2="657" y2="369.5" stroke="#c0c0c0" stroke-width="1" stroke-dasharray="3 3" shape-rendering="crispEdges"/>
<path d="M304,355h10v1h-10zM300,356h4v1h-4zM314,356h6v1h-6zM348,356h13v1h-13zM296,357h4v1h-4zM320,357h7v1h-7zM342,357h6v1h-6zM361,357h6v1h-6zM293,358h3v1h-3zM327,358h15v1h-15zM367,358h23v1h-23zM290,359h3v1h-3zM390,359h5v1h-5zM287,360h3v1h-3zM395,360h4v1h-4zM284,361h3v1h-3zM399,361h4v1h-4zM280,362h4v1h-4zM403,362h6v1h-6zM277,363h3v1h-3zM409,363h6v1h-6zM275,364h2v1h-2zM415,364h8v1h-8zM460,364h11v1h-11zM272,365h3v1h-3zM423,365h8v1h-8zM446,365h14v1h-14zM471,365h6v1h-6zM500,365h23v1h-23zM270,366h2v1h-2zM431,366h15v1h-15zM477,366h4v1h-4zM494,366h6v1h-6zM523,366h3v1h-3zM544,366h15v1h-15zM210,367h12v1h-12zM267,367h3v1h-3zM481,367h13v1h-13zM526,367h4v1h-4zM537,367h7v1h-7zM559,367h5v1h-5zM25,368h30v1h-30zM208,368h2v1h-2zM222,368h5v1h-5zM265,368h2v1h-2zM530,368h7v1h-7zM20,369h5v1h-5zM55,369h2v1h-2zM205,369h3v1h-3zM227,369h16v1h-16zM263,369h2v1h-2zM16,370h4v1h-4zM57,370h2v1h-2zM112,370h11v1h-11zM202,370h3v1h-3zM243,370h17v1h-17zM261,370h2v1h-2zM12,371h4v1h-4zM59,371h2v1h-2zM81,371h31v1h-31zM123,371h4v1h-4zM198,371h4v1h-4zM260,371h1v1h-1zM9,372h3v1h-3zM61,372h2v1h-2zM76,372h5v1h-5zM127,372h3v1h-3zM193,372h5v1h-5zM7,373h2v1h-2zM63,373h2v1h-2zM72,373h4v1h-4zM130,373h4v1h-4zM188,373h5v1h-5zM5,374h2v1h-2zM65,374h2v1h-2zM69,374h3v1h-3zM134,374h5v1h-5zM184,374h4v1h-4zM3,375h2v1h-2zM67,375h2v1h-2zM139,375h4v1h-4zM170,375h14v1h-14zM143,376h4v1h-4zM167,376h3v1h-3zM147,377h20v1h-20z" fill="#ff00ff" shape-rendering="crispEdges"/>
<path d="M365,359h30v1h-30zM350,360h15v1h-15zM395,360h14v1h-14zM334,361h16v1h-16zM409,361h16v1h-16zM320,362h14v1h-14zM425,362h10v1h-10zM312,363h8v1h-8zM435,363h16v1h-16zM305,364h7v1h-7zM451,364h40v1h-40zM508,364h15v1h-15zM299,365h6v1h-6zM491,365h17v1h-17zM523,365h36v1h-36zM293,366h6v1h-6zM559,366h5v1h-5zM287,367h6v1h-6zM280,368h7v1h-7zM272,369h8v1h-8zM212,370h45v1h-45zM262,370h10v1h-10zM40,371h22v1h-22zM107,371h23v1h-23zM204,371h8v1h-8zM257,371h5v1h-5zM32,372h8v1h-8zM62,372h45v1h-45zM130,372h12v1h-12zM196,372h8v1h-8zM24,373h8v1h-8zM142,373h4v1h-4zM185,373h11v1h-11zM16,374h8v1h-8zM146,374h39v1h-39zM8,375h8v1h-8zM3,376h5v1h-5z" fill="#008000" shape-rendering="crispEdges"/>
</g>
<rect x="2.5" y="2.5" width="655" height="236" fill="none" stroke="#000" stroke-width="1" shape-rendering="crispEdges"/>
<rect x="2.5" y="240.5" width="655" height="36" fill="none" stroke="#000" stroke-width="1" shape-rendering="crispEdges"/>
<rect x="2.5" y="278.5" width="655" height="38" fill="none" stroke="#000" stroke-width="1" shape-rendering="crispEdges"/>
<rect x="2.5" y="318.5" width="655" height="32" fill="none" stroke="#000" stroke-width="1" shape-rendering="crispEdges"/>
<rect x="2.5" y="352.5" width="655" height="27" fill="none" stroke="#000" stroke-width="1" shape-rendering="crispEdges"/>
<rect x="658" y="4" width="2" height="1" fill="#000" shape-rendering="crispEdges"/>
<text x="662.8" y="8" textLength="33" lengthAdjust="spacingAndGlyphs">1.42710</text>
<rect x="658" y="37" width="2" height="1" fill="#000" shape-rendering="crispEdges"/>
<text x="662.8" y="41" textLength="33" lengthAdjust="spacingAndGlyphs">1.41890</text>
<rect x="658" y="70" width="2" height="1" fill="#000" shape-rendering="crispEdges"/>
<text x="662.8" y="74" textLength="33" lengthAdjust="spacingAndGlyphs">1.41090</text>
<rect x="658" y="103" width="2" height="1" fill="#000" shape-rendering="crispEdges"/>
<text x="662.8" y="107" textLength="33" lengthAdjust="spacingAndGlyphs">1.40270</text>
<rect x="658" y="136" width="2" height="1" fill="#000" shape-rendering="crispEdges"/>
<text x="662.8" y="140" textLength="33" lengthAdjust="spacingAndGlyphs">1.39470</text>
<rect x="658" y="169" width="2" height="1" fill="#000" shape-rendering="crispEdges"/>
<text x="662.8" y="173" textLength="33" lengthAdjust="spacingAndGlyphs">1.38650</text>
<rect x="658" y="202" width="2" height="1" fill="#000" shape-rendering="crispEdges"/>
<text x="662.8" y="206" textLength="33" lengthAdjust="spacingAndGlyphs">1.37850</text>
<rect x="658" y="235" width="2" height="1" fill="#000" shape-rendering="crispEdges"/>
<text x="662.8" y="239" textLength="33" lengthAdjust="spacingAndGlyphs">1.37030</text>
<rect x="659" y="35" width="41" height="11" fill="#000" shape-rendering="crispEdges"/>
<text x="662.8" y="44" textLength="33" lengthAdjust="spacingAndGlyphs" style="fill:#fff;stroke:#fff">1.41829</text>
<rect x="658" y="242" width="1" height="1" fill="#000" shape-rendering="crispEdges"/>
<rect x="658" y="275" width="1" height="1" fill="#000" shape-rendering="crispEdges"/>
<rect x="658" y="280" width="1" height="1" fill="#000" shape-rendering="crispEdges"/>
<rect x="658" y="307" width="1" height="1" fill="#000" shape-rendering="crispEdges"/>
<rect x="658" y="315" width="1" height="1" fill="#000" shape-rendering="crispEdges"/>
<rect x="658" y="320" width="1" height="1" fill="#000" shape-rendering="crispEdges"/>
<rect x="658" y="349" width="1" height="1" fill="#000" shape-rendering="crispEdges"/>
<rect x="658" y="354" width="1" height="1" fill="#000" shape-rendering="crispEdges"/>
<rect x="658" y="378" width="1" height="1" fill="#000" shape-rendering="crispEdges"/>
<text x="661.2" y="251" textLength="14.3" lengthAdjust="spacingAndGlyphs">100</text>
<text x="660" y="256" textLength="10" lengthAdjust="spacingAndGlyphs">70</text>
<text x="660" y="269" textLength="10" lengthAdjust="spacingAndGlyphs">30</text>
<text x="661" y="273" textLength="5" lengthAdjust="spacingAndGlyphs">0</text>
<text x="661.2" y="289" textLength="33" lengthAdjust="spacingAndGlyphs">0.00721</text>
<text x="661.2" y="311" textLength="17.6" lengthAdjust="spacingAndGlyphs">0.00</text>
<text x="660" y="313" textLength="43.5" lengthAdjust="spacingAndGlyphs">-0.002156</text>
<text x="661.2" y="329" textLength="14.3" lengthAdjust="spacingAndGlyphs">100</text>
<text x="660" y="329" textLength="10" lengthAdjust="spacingAndGlyphs">80</text>
<text x="660" y="347" textLength="10" lengthAdjust="spacingAndGlyphs">20</text>
<text x="661" y="347" textLength="5" lengthAdjust="spacingAndGlyphs">0</text>
<text x="661.2" y="363" textLength="37.8" lengthAdjust="spacingAndGlyphs">102.8323</text>
<text x="661.2" y="373" textLength="13" lengthAdjust="spacingAndGlyphs">100</text>
<text x="661" y="376" textLength="33.6" lengthAdjust="spacingAndGlyphs">98.2552</text>
<polygon points="6,9 13,9 9.5,13" fill="#000"/>
<text x="17.4" y="14" textLength="64.0" lengthAdjust="spacingAndGlyphs">GBPUSD,Daily</text>
<text x="87.8" y="14" textLength="33.6" lengthAdjust="spacingAndGlyphs">1.41716</text>
<text x="124.0" y="14" textLength="33.4" lengthAdjust="spacingAndGlyphs">1.41975</text>
<text x="160.0" y="14" textLength="33.4" lengthAdjust="spacingAndGlyphs">1.41707</text>
<text x="196.0" y="14" textLength="33.0" lengthAdjust="spacingAndGlyphs">1.41829</text>
<text x="7.0" y="253" textLength="31.4" lengthAdjust="spacingAndGlyphs">RSI(14)</text>
<text x="41.4" y="253" textLength="34.0" lengthAdjust="spacingAndGlyphs">61.3713</text>
<text x="81.0" y="253" textLength="35.4" lengthAdjust="spacingAndGlyphs">-&gt;MA(7)</text>
<text x="119.0" y="253" textLength="34.4" lengthAdjust="spacingAndGlyphs">57.2970</text>
<text x="7.0" y="292" textLength="65.8" lengthAdjust="spacingAndGlyphs">MACD(12,26,9)</text>
<text x="76.4" y="292" textLength="38.4" lengthAdjust="spacingAndGlyphs">0.005098</text>
<text x="117.4" y="292" textLength="38.0" lengthAdjust="spacingAndGlyphs">0.004147</text>
<text x="7.0" y="331" textLength="50.4" lengthAdjust="spacingAndGlyphs">Stoch(5,3,3)</text>
<text x="60.4" y="331" textLength="32.4" lengthAdjust="spacingAndGlyphs">85.6865</text>
<text x="95.8" y="331" textLength="32.6" lengthAdjust="spacingAndGlyphs">86.3743</text>
<text x="7.0" y="365" textLength="63.4" lengthAdjust="spacingAndGlyphs">Momentum(14)</text>
<text x="73.8" y="365" textLength="36.2" lengthAdjust="spacingAndGlyphs">100.3566</text>
<text x="116.4" y="365" textLength="37.0" lengthAdjust="spacingAndGlyphs">-&gt;MA(7)</text>
<text x="156.8" y="365" textLength="37.2" lengthAdjust="spacingAndGlyphs">100.5716</text>
<rect x="3" y="380" width="1" height="3" fill="#000" shape-rendering="crispEdges"/>
<text x="2.5" y="392" textLength="52.2" lengthAdjust="spacingAndGlyphs">22 Feb 2018</text>
<rect x="67" y="380" width="1" height="3" fill="#000" shape-rendering="crispEdges"/>
<text x="66.5" y="392" textLength="52.2" lengthAdjust="spacingAndGlyphs">28 Feb 2018</text>
<rect x="131" y="380" width="1" height="3" fill="#000" shape-rendering="crispEdges"/>
<text x="130.5" y="392" textLength="47" lengthAdjust="spacingAndGlyphs">6 Mar 2018</text>
<rect x="195" y="380" width="1" height="3" fill="#000" shape-rendering="crispEdges"/>
<text x="194.5" y="392" textLength="52.2" lengthAdjust="spacingAndGlyphs">12 Mar 2018</text>
<rect x="259" y="380" width="1" height="3" fill="#000" shape-rendering="crispEdges"/>
<text x="258.5" y="392" textLength="52.2" lengthAdjust="spacingAndGlyphs">16 Mar 2018</text>
<rect x="323" y="380" width="1" height="3" fill="#000" shape-rendering="crispEdges"/>
<text x="322.5" y="392" textLength="52.2" lengthAdjust="spacingAndGlyphs">22 Mar 2018</text>
<rect x="387" y="380" width="1" height="3" fill="#000" shape-rendering="crispEdges"/>
<text x="386.5" y="392" textLength="52.2" lengthAdjust="spacingAndGlyphs">28 Mar 2018</text>
<rect x="451" y="380" width="1" height="3" fill="#000" shape-rendering="crispEdges"/>
<text x="450.5" y="392" textLength="47" lengthAdjust="spacingAndGlyphs">3 Apr 2018</text>
<rect x="515" y="380" width="1" height="3" fill="#000" shape-rendering="crispEdges"/>
<text x="514.5" y="392" textLength="47" lengthAdjust="spacingAndGlyphs">9 Apr 2018</text>
</svg></body></html>
